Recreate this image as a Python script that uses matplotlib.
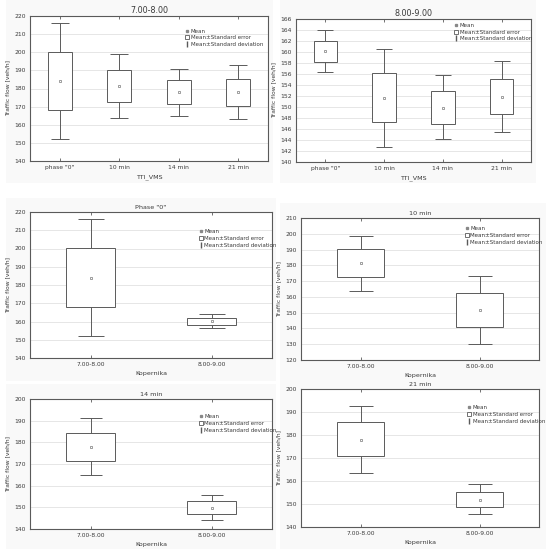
import matplotlib
matplotlib.use("Agg")
import matplotlib.pyplot as plt
from matplotlib.lines import Line2D
from matplotlib.patches import Rectangle

# ---------------- data ----------------
cats_tti = ['phase "0"', '10 min', '14 min', '21 min']
cats_kop = ['7.00-8.00', '8.00-9.00']

# Panel 1: 7.00-8.00
p1_mean = [184.1, 181.4, 177.8, 177.9]
p1_se_lo = [168.2, 172.8, 171.4, 170.6]
p1_se_hi = [200.1, 190.1, 184.6, 185.4]
p1_sd_lo = [152.3, 164.0, 165.0, 163.2]
p1_sd_hi = [215.9, 198.8, 190.9, 192.8]

# Panel 2: 8.00-9.00
p2_mean = [160.1, 151.7, 149.9, 151.9]
p2_se_lo = [158.2, 147.2, 147.0, 148.7]
p2_se_hi = [162.0, 156.2, 152.9, 155.1]
p2_sd_lo = [156.3, 142.8, 144.1, 145.5]
p2_sd_hi = [164.0, 160.6, 155.9, 158.4]

# Panel 3: Phase "0"
p3_mean = [184.1, 160.1]
p3_se_lo = [168.2, 158.3]
p3_se_hi = [200.1, 162.1]
p3_sd_lo = [152.3, 156.4]
p3_sd_hi = [215.9, 164.1]

# Panel 4: 10 min
p4_mean = [181.2, 151.4]
p4_se_lo = [172.9, 140.7]
p4_se_hi = [190.1, 162.4]
p4_sd_lo = [163.9, 129.9]
p4_sd_hi = [198.8, 173.2]

# Panel 5: 14 min
p5_mean = [178.0, 149.8]
p5_se_lo = [171.4, 146.9]
p5_se_hi = [184.5, 152.9]
p5_sd_lo = [165.1, 144.2]
p5_sd_hi = [191.2, 155.8]

# Panel 6: 21 min
p6_mean = [178.0, 151.9]
p6_se_lo = [170.7, 148.7]
p6_se_hi = [185.5, 155.2]
p6_sd_lo = [163.4, 145.7]
p6_sd_hi = [192.8, 158.7]

legend_labels = ['Mean', 'Mean\u00b1Standard error', 'Mean\u00b1Standard deviation']

W, H = 550, 549
fig = plt.figure(figsize=(5.5, 5.49), dpi=100)
fig.patch.set_facecolor('white')

EDGE = '#5a5a5a'
TXT = '#3a3a3a'
GRID = '#e2e2e2'

def rect(L, R, T, B):
    return [L / W, 1 - B / H, (R - L) / W, (B - T) / H]

# faint panel backgrounds
for (L, R, T, B) in [(6, 273, 0, 183), (280, 536, 0, 183), (6, 276, 198, 381),
                     (280, 546, 203, 383), (6, 276, 384, 549), (280, 546, 372, 549)]:
    fig.patches.append(Rectangle((L / W, 1 - B / H), (R - L) / W, (B - T) / H,
                                 transform=fig.transFigure, facecolor='#f9f9f9',
                                 edgecolor='none', zorder=-10))

panels = [
    dict(r=(30, 268, 16, 161), cats=cats_tti, title='7.00-8.00', xlabel='TTI_VMS',
         ylim=(140, 220), step=10, mean=p1_mean, selo=p1_se_lo, sehi=p1_se_hi,
         sdlo=p1_sd_lo, sdhi=p1_sd_hi, cap=6.5, leg=(0.65, 0.92), tfs=5.8),
    dict(r=(296, 531, 19, 162), cats=cats_tti, title='8.00-9.00', xlabel='TTI_VMS',
         ylim=(140, 166), step=2, mean=p2_mean, selo=p2_se_lo, sehi=p2_se_hi,
         sdlo=p2_sd_lo, sdhi=p2_sd_hi, cap=5.8, leg=(0.67, 0.98), tfs=5.8),
    dict(r=(30, 272, 212, 358), cats=cats_kop, title='Phase "0"', xlabel='Kopernika',
         ylim=(140, 220), step=10, mean=p3_mean, selo=p3_se_lo, sehi=p3_se_hi,
         sdlo=p3_sd_lo, sdhi=p3_sd_hi, cap=9.5, leg=(0.695, 0.89), tfs=4.6),
    dict(r=(301, 539, 218, 360), cats=cats_kop, title='10 min', xlabel='Kopernika',
         ylim=(120, 210), step=10, mean=p4_mean, selo=p4_se_lo, sehi=p4_se_hi,
         sdlo=p4_sd_lo, sdhi=p4_sd_hi, cap=8.3, leg=(0.685, 0.95), tfs=4.6),
    dict(r=(30, 272, 399, 529), cats=cats_kop, title='14 min', xlabel='Kopernika',
         ylim=(140, 200), step=10, mean=p5_mean, selo=p5_se_lo, sehi=p5_se_hi,
         sdlo=p5_sd_lo, sdhi=p5_sd_hi, cap=8.0, leg=(0.695, 0.89), tfs=4.6),
    dict(r=(301, 539, 389, 527), cats=cats_kop, title='21 min', xlabel='Kopernika',
         ylim=(140, 200), step=10, mean=p6_mean, selo=p6_se_lo, sehi=p6_se_hi,
         sdlo=p6_sd_lo, sdhi=p6_sd_hi, cap=8.3, leg=(0.695, 0.89), tfs=4.6),
]

for p in panels:
    ax = fig.add_axes(rect(*p['r']))
    ax.set_facecolor('white')
    n = len(p['cats'])
    x = list(range(n))
    lo, hi = p['ylim']
    ax.set_xlim(-0.5, n - 0.5)
    ax.set_ylim(lo, hi)
    ax.set_yticks(list(range(lo, hi + 1, p['step'])))
    ax.set_xticks(x)
    ax.set_xticklabels(p['cats'])
    ax.yaxis.grid(True, color=GRID, linewidth=0.6)
    ax.set_axisbelow(True)
    # SD whiskers
    yerr = [[m - l for m, l in zip(p['mean'], p['sdlo'])],
            [h - m for m, h in zip(p['mean'], p['sdhi'])]]
    ax.errorbar(x, p['mean'], yerr=yerr, fmt='none', ecolor=EDGE, elinewidth=0.7,
                capsize=p['cap'], capthick=0.7, zorder=2)
    # SE boxes
    ax.bar(x, [h - l for h, l in zip(p['sehi'], p['selo'])], bottom=p['selo'],
           width=0.4, facecolor='white', edgecolor=EDGE, linewidth=0.7, zorder=3)
    # mean markers
    ax.plot(x, p['mean'], linestyle='none', marker='s', markersize=2.0,
            markerfacecolor='white', markeredgecolor='#777777', markeredgewidth=0.5, zorder=4)
    for s in ax.spines.values():
        s.set_color(EDGE)
        s.set_linewidth(0.8)
    ax.tick_params(axis='both', labelsize=4.3, colors=TXT, length=2, width=0.5,
                   direction='in', pad=3)
    ax.tick_params(axis='x', top=True, bottom=True)
    ax.tick_params(axis='y', left=False, right=False)
    ax.set_title(p['title'], fontsize=p['tfs'], color=TXT, pad=2.5)
    ax.set_xlabel(p['xlabel'], fontsize=4.6, color=TXT, labelpad=3)
    ax.set_ylabel('Traffic flow [veh/h]', fontsize=4.3, color=TXT, labelpad=3)

    handles = [
        Line2D([], [], linestyle='none', marker='s', markersize=1.4,
               markerfacecolor='#888888', markeredgecolor='#888888'),
        Line2D([], [], linestyle='none', marker='s', markersize=3.4,
               markerfacecolor='white', markeredgecolor=EDGE, markeredgewidth=0.6),
        Line2D([], [], linestyle='none', marker=r'$\mathrm{I}$', markersize=3.6,
               color=EDGE),
    ]
    ax.legend(handles, legend_labels, loc='upper left', bbox_to_anchor=p['leg'],
              frameon=False, fontsize=4.0, handlelength=0.6, handletextpad=0.3,
              labelspacing=0.3, borderaxespad=0.0, borderpad=0.2,
              labelcolor=TXT)

fig.savefig('out.png', dpi=100)
